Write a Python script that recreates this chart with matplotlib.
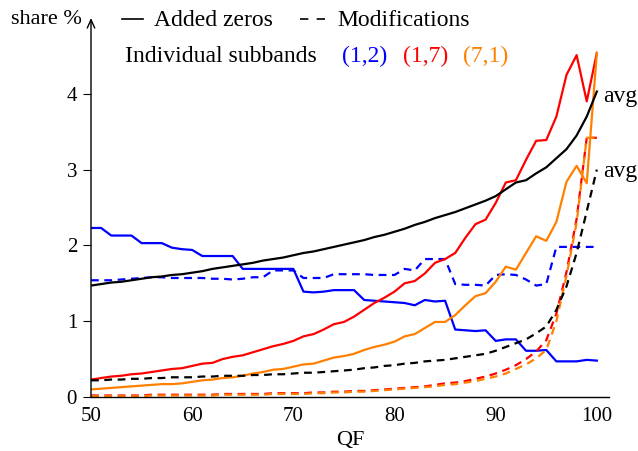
import numpy as np
import matplotlib
matplotlib.use("Agg")
import matplotlib.pyplot as plt
from matplotlib.lines import Line2D

plt.rcParams["font.family"] = ["Liberation Serif", "DejaVu Serif"]
plt.rcParams["font.size"] = 15

qf = np.arange(50, 101)

# added zeros (solid)
avg_zeros = [1.47, 1.49, 1.51, 1.52, 1.54, 1.56, 1.58, 1.59, 1.61, 1.62,
             1.64, 1.66, 1.69, 1.71, 1.73, 1.75, 1.77, 1.80, 1.82, 1.84,
             1.87, 1.90, 1.92, 1.95, 1.98, 2.01, 2.04, 2.07, 2.11, 2.14,
             2.18, 2.22, 2.27, 2.31, 2.36, 2.40, 2.44, 2.49, 2.54, 2.59,
             2.65, 2.74, 2.83, 2.86, 2.95, 3.03, 3.15, 3.27, 3.45, 3.70,
             4.03]
zeros_12 = [2.23, 2.23, 2.13, 2.13, 2.13, 2.03, 2.03, 2.03, 1.97, 1.95,
            1.94, 1.86, 1.86, 1.86, 1.86, 1.69, 1.69, 1.69, 1.69, 1.69,
            1.69, 1.39, 1.38, 1.39, 1.41, 1.41, 1.41, 1.28, 1.27, 1.26,
            1.25, 1.24, 1.21, 1.28, 1.26, 1.27, 0.89, 0.88, 0.87, 0.88,
            0.74, 0.76, 0.76, 0.61, 0.61, 0.62, 0.47, 0.47, 0.47, 0.49,
            0.48]
zeros_17 = [0.23, 0.25, 0.27, 0.28, 0.30, 0.31, 0.33, 0.35, 0.37, 0.38,
            0.41, 0.44, 0.45, 0.50, 0.53, 0.55, 0.59, 0.63, 0.67, 0.70,
            0.74, 0.80, 0.83, 0.89, 0.96, 0.99, 1.06, 1.15, 1.24, 1.31,
            1.39, 1.50, 1.53, 1.63, 1.77, 1.82, 1.90, 2.10, 2.28, 2.34,
            2.56, 2.83, 2.86, 3.13, 3.38, 3.39, 3.70, 4.25, 4.51, 3.90,
            4.54]
zeros_71 = [0.10, 0.11, 0.12, 0.13, 0.14, 0.15, 0.16, 0.17, 0.17, 0.18,
            0.20, 0.22, 0.23, 0.25, 0.26, 0.28, 0.31, 0.33, 0.36, 0.37,
            0.40, 0.43, 0.44, 0.48, 0.52, 0.54, 0.57, 0.62, 0.66, 0.69,
            0.73, 0.80, 0.83, 0.91, 0.99, 0.99, 1.08, 1.21, 1.33, 1.37,
            1.52, 1.72, 1.68, 1.90, 2.12, 2.06, 2.31, 2.84, 3.05, 2.82,
            4.54]

# modifications (dashed)
avg_mods = [0.22, 0.22, 0.23, 0.23, 0.24, 0.24, 0.25, 0.25, 0.26, 0.26,
            0.26, 0.27, 0.27, 0.28, 0.28, 0.28, 0.29, 0.29, 0.30, 0.30,
            0.31, 0.32, 0.32, 0.33, 0.34, 0.35, 0.36, 0.38, 0.39, 0.41,
            0.42, 0.44, 0.45, 0.47, 0.48, 0.49, 0.51, 0.53, 0.55, 0.57,
            0.61, 0.66, 0.71, 0.76, 0.84, 0.93, 1.15, 1.46, 1.90, 2.45,
            3.00]
mods_12 = [1.54, 1.54, 1.54, 1.55, 1.56, 1.57, 1.58, 1.58, 1.57, 1.57,
           1.57, 1.57, 1.56, 1.56, 1.55, 1.56, 1.58, 1.58, 1.67, 1.67,
           1.67, 1.57, 1.57, 1.57, 1.62, 1.62, 1.62, 1.62, 1.61, 1.61,
           1.61, 1.69, 1.67, 1.82, 1.82, 1.82, 1.49, 1.48, 1.48, 1.47,
           1.61, 1.62, 1.61, 1.55, 1.47, 1.49, 1.98, 1.98, 1.98, 1.98,
           1.98]
mods_17 = [0.02, 0.02, 0.02, 0.02, 0.02, 0.02, 0.03, 0.03, 0.03, 0.03,
           0.03, 0.03, 0.03, 0.04, 0.04, 0.04, 0.04, 0.04, 0.05, 0.05,
           0.05, 0.05, 0.06, 0.06, 0.07, 0.07, 0.08, 0.08, 0.09, 0.10,
           0.11, 0.12, 0.13, 0.14, 0.16, 0.18, 0.19, 0.21, 0.24, 0.27,
           0.31, 0.36, 0.42, 0.50, 0.60, 0.75, 1.10, 1.65, 2.35, 3.42,
           3.42]
mods_71 = [0.01, 0.01, 0.01, 0.01, 0.01, 0.01, 0.02, 0.02, 0.02, 0.02,
           0.02, 0.02, 0.02, 0.03, 0.03, 0.03, 0.03, 0.03, 0.04, 0.04,
           0.04, 0.04, 0.05, 0.05, 0.06, 0.06, 0.07, 0.07, 0.08, 0.09,
           0.10, 0.11, 0.12, 0.13, 0.14, 0.16, 0.17, 0.19, 0.21, 0.24,
           0.27, 0.31, 0.37, 0.43, 0.51, 0.62, 1.00, 1.60, 2.30, 3.42,
           3.42]

BLUE = "#0000ff"
RED = "#ff0000"
ORANGE = "#ff8000"
LW = 1.6
DASH = (0, (3.5, 2.5))
WORDS = 17

fig = plt.figure(figsize=(6.38, 4.51), dpi=100)
ax = fig.add_axes([91 / 638, 1 - 397 / 451, (609 - 91) / 638, (397 - 18) / 451])

ax.plot(qf, zeros_12, color=BLUE, lw=LW)
ax.plot(qf, mods_12, color=BLUE, lw=LW, linestyle=DASH)
ax.plot(qf, zeros_17, color=RED, lw=LW)
ax.plot(qf, mods_17, color=RED, lw=LW, linestyle=DASH)
ax.plot(qf, zeros_71, color=ORANGE, lw=LW)
ax.plot(qf, mods_71, color=ORANGE, lw=LW, linestyle=DASH)
ax.plot(qf, avg_zeros, color="black", lw=LW)
ax.plot(qf, avg_mods, color="black", lw=LW, linestyle=DASH)

ax.text(100.6, 3.89, "avg", va="baseline", ha="left", fontsize=WORDS)
ax.text(100.6, 2.9, "avg", va="baseline", ha="left", fontsize=WORDS)

ax.set_xlim(50, 101.2)
ax.set_ylim(0, 5.0)
ax.set_xticks([50, 60, 70, 80, 90, 100])
ax.set_yticks([0, 1, 2, 3, 4])
ax.tick_params(axis="x", length=0, pad=7)
ax.tick_params(axis="y", length=6, width=0.8, direction="out", pad=4)
ax.spines["top"].set_visible(False)
ax.spines["right"].set_visible(False)
ax.spines["left"].set_visible(False)
ax.spines["bottom"].set_linewidth(1.0)
ax.annotate("", xy=(0, 1.0), xytext=(0, 0), xycoords="axes fraction",
            arrowprops=dict(arrowstyle="->,head_length=0.4,head_width=0.18",
                            lw=1.0, color="black", shrinkA=0, shrinkB=0))

ax.set_xlabel("QF", labelpad=4, fontsize=16)
fig.text(82 / 638, 1 - 20 / 451, "share %", ha="right", va="center", fontsize=16)

# legend built by hand
y1 = 1 - 20 / 451
y2 = 1 - 56 / 451
fig.add_artist(Line2D([122 / 638, 143 / 638], [1 - 19 / 451] * 2, color="black", lw=1.2))
fig.text(154 / 638, y1, "Added zeros", va="center", fontsize=WORDS)
fig.add_artist(Line2D([300 / 638, 328 / 638], [1 - 19 / 451] * 2, color="black", lw=1.2,
                      linestyle=(0, (5, 5))))
fig.text(337 / 638, y1, "Modifications", va="center", fontsize=WORDS)
fig.text(125 / 638, y2, "Individual subbands", va="center", fontsize=WORDS)
fig.text(342 / 638, y2, "(1,2)", va="center", color=BLUE, fontsize=WORDS)
fig.text(403 / 638, y2, "(1,7)", va="center", color=RED, fontsize=WORDS)
fig.text(463 / 638, y2, "(7,1)", va="center", color=ORANGE, fontsize=WORDS)

fig.savefig("out.png", dpi=100)
